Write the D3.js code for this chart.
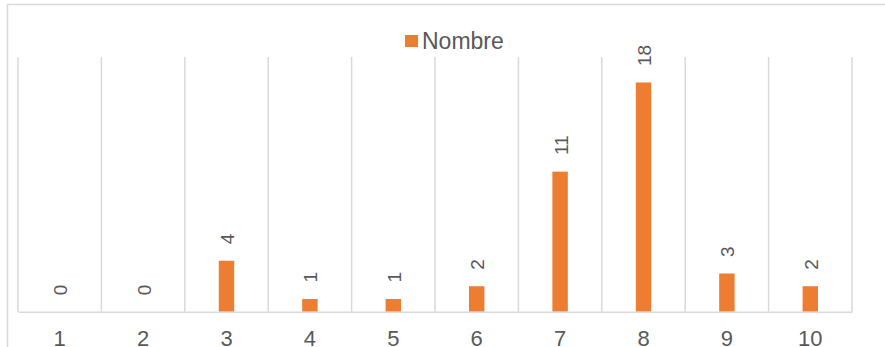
<!DOCTYPE html>
<html><head><meta charset="utf-8">
<script src="https://cdn.jsdelivr.net/npm/d3@7"></script>
<style>body{margin:0;background:#fff}svg{display:block;font-family:"Liberation Sans",Arial,sans-serif}</style>
</head><body><svg id="c" width="885" height="347"></svg>
<script>
const categories = ["1","2","3","4","5","6","7","8","9","10"];
const values = [0,0,4,1,1,2,11,18,3,2];
const seriesName = "Nombre";
const yMax = 20;

const svg = d3.select("#c");
const W = 885, H = 347;
const m = {left:18, right:33, top:57, bottom:35.3};
const x = d3.scaleBand().domain(categories).range([m.left, W - m.right]);
const y = d3.scaleLinear().domain([0, yMax]).range([H - m.bottom, m.top]);

// chart border
svg.append("rect").attr("x",7.5).attr("y",4.5).attr("width",1200).attr("height",1200)
  .attr("fill","none").attr("stroke","#D9D9D9").attr("stroke-width",1.5);

// vertical gridlines at category boundaries
const bounds = categories.map(c => x(c)).concat([x(categories[categories.length-1]) + x.bandwidth()]);
svg.append("g").selectAll("line").data(bounds).join("line")
  .attr("x1", d => d).attr("x2", d => d)
  .attr("y1", y(yMax)).attr("y2", y(0))
  .attr("stroke","#D9D9D9").attr("stroke-width",1.5);

// bars
const bw = x.bandwidth() * 0.185;
svg.append("g").selectAll("rect").data(values).join("rect")
  .attr("x", (d,i) => x(categories[i]) + x.bandwidth()/2 - bw/2)
  .attr("width", bw)
  .attr("y", d => y(d))
  .attr("height", d => y(0) - y(d))
  .attr("fill","#ED7D31");

// x axis
const xAxis = d3.axisBottom(x).tickSize(0).tickPadding(0);
const gx = svg.append("g").attr("transform", `translate(0,${y(0)})`).call(xAxis);
gx.select(".domain").attr("stroke","#D9D9D9").attr("stroke-width",1.5);
gx.selectAll("text").attr("fill","#595959").attr("font-size","22px")
  .attr("dy", null).attr("y", 34.3).style("font-family","Liberation Sans, Arial, sans-serif");

// data labels, rotated
svg.append("g").selectAll("text").data(values).join("text")
  .attr("transform", (d,i) => `translate(${x(categories[i]) + x.bandwidth()/2 + 1},${y(d) - 16.5}) rotate(-90)`)
  .attr("text-anchor","start").attr("dominant-baseline","central")
  .attr("fill","#595959").attr("font-size","19px")
  .text(d => d);

// legend
const lg = svg.append("g");
lg.append("rect").attr("x",405).attr("y",35).attr("width",13).attr("height",12).attr("fill","#ED7D31");
lg.append("text").attr("x",422).attr("y",49).attr("fill","#595959").attr("font-size","23px").text(seriesName);
</script></body></html>
